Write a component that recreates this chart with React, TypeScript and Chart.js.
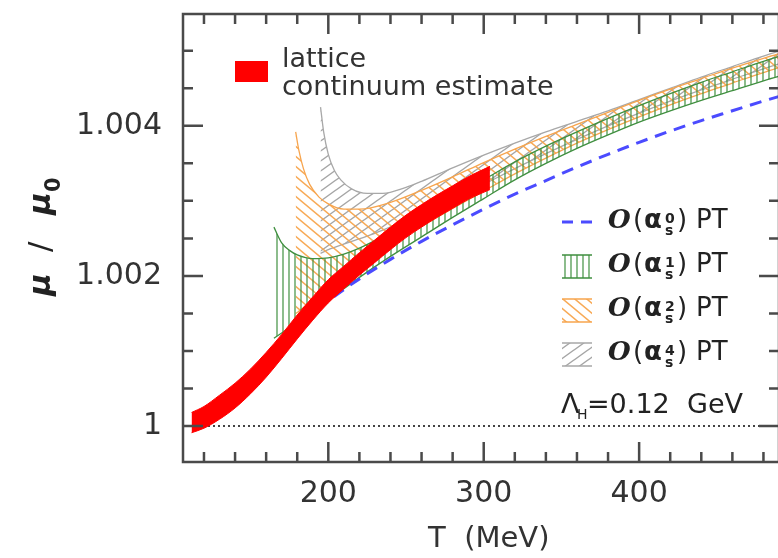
import React, { useEffect, useRef } from "react";
import { Chart, registerables } from "chart.js";
Chart.register(...registerables);

// ---------- axis ranges & ticks ----------
const xMin = 106.5;
const xMax = 490;
const yMin = 0.99952;
const yMax = 1.00549;
const xTicks = [200, 300, 400];
const xTickLabels = ["200", "300", "400"];
const xMinorTicks = [120, 140, 160, 180, 220, 240, 260, 280, 320, 340, 360, 380, 420, 440, 460, 480];
const yTicks = [1, 1.002, 1.004];
const yTickLabels = ["1", "1.002", "1.004"];
const yMinorTicks = [1.0005, 1.001, 1.0015, 1.0025, 1.003, 1.0035, 1.0045, 1.005];

// ---------- lattice continuum estimate (band) ----------
const latticeT = [112, 120, 130, 140, 150, 160, 170, 180, 190, 200, 210, 220, 230, 240, 250, 260, 270, 280, 290, 304];
const latticeLow = [0.99991, 0.99997, 1.00009, 1.00024, 1.00043, 1.00065, 1.0009, 1.00116, 1.00141, 1.00164, 1.00183, 1.00201, 1.00218, 1.00235, 1.00251, 1.00265, 1.00278, 1.0029, 1.00302, 1.00315];
const latticeHigh = [1.00018, 1.00026, 1.00041, 1.00057, 1.00076, 1.00098, 1.00122, 1.00148, 1.00172, 1.00195, 1.00213, 1.00231, 1.00248, 1.00265, 1.00281, 1.00295, 1.00308, 1.0032, 1.00332, 1.00346];

// ---------- O(alpha_s^0) PT ----------
const pt0T = [183, 200, 220, 240, 260, 280, 300, 320, 340, 360, 380, 400, 420, 440, 460, 480, 500];
const pt0Mu = [1.0014, 1.00167, 1.00196, 1.00222, 1.00246, 1.00268, 1.00289, 1.00309, 1.00327, 1.00345, 1.00362, 1.00378, 1.00393, 1.00407, 1.0042, 1.00433, 1.00445];

// ---------- O(alpha_s^1) PT band ----------
const pt1T = [165, 170, 175, 180, 190, 200, 210, 220, 240, 260, 280, 300, 320, 340, 360, 380, 400, 420, 440, 460, 480, 500];
const pt1Low = [1.00117, 1.00124, 1.00131, 1.00138, 1.00153, 1.00168, 1.00183, 1.00198, 1.00226, 1.00252, 1.00278, 1.00303, 1.00328, 1.0035, 1.0037, 1.00388, 1.00405, 1.0042, 1.00434, 1.00447, 1.0046, 1.00472];
const pt1High = [1.00265, 1.00244, 1.00234, 1.00228, 1.00223, 1.00224, 1.00229, 1.00237, 1.00258, 1.00282, 1.00305, 1.00328, 1.00352, 1.00373, 1.00392, 1.0041, 1.00427, 1.00443, 1.00458, 1.00472, 1.00486, 1.00499];

// ---------- O(alpha_s^2) PT band ----------
const pt2T = [179, 181, 184, 188, 194, 200, 210, 220, 240, 260, 280, 300, 320, 340, 360, 380, 400, 420, 440, 460, 480, 500];
const pt2Low = [1.0015, 1.00153, 1.00158, 1.00164, 1.00173, 1.00183, 1.00198, 1.00213, 1.00241, 1.00266, 1.0029, 1.00313, 1.00336, 1.00357, 1.00377, 1.00395, 1.00412, 1.00428, 1.00443, 1.00457, 1.00471, 1.00484];
const pt2High = [1.00392, 1.00368, 1.00343, 1.00322, 1.00305, 1.00296, 1.00289, 1.00289, 1.00298, 1.00314, 1.00332, 1.00351, 1.00369, 1.00386, 1.00402, 1.00418, 1.00434, 1.00449, 1.00463, 1.00477, 1.0049, 1.00502];

// ---------- O(alpha_s^4) PT band ----------
const pt4T = [195, 197, 200, 204, 208, 215, 225, 235, 250, 260, 280, 300, 320, 340, 360, 380, 400, 420, 440, 460, 480, 500];
const pt4Low = [1.0023, 1.00232, 1.00235, 1.00238, 1.00241, 1.00246, 1.00253, 1.00261, 1.00274, 1.00283, 1.00302, 1.00322, 1.00343, 1.00363, 1.00382, 1.004, 1.00417, 1.00433, 1.00448, 1.00462, 1.00476, 1.00489];
const pt4High = [1.00425, 1.00392, 1.00362, 1.0034, 1.00328, 1.00316, 1.0031, 1.0031, 1.00318, 1.00326, 1.00344, 1.00361, 1.00377, 1.00392, 1.00406, 1.0042, 1.00435, 1.0045, 1.00465, 1.00479, 1.00493, 1.00506];

// reference line mu/mu0 = 1
const refLineT = [xMin, xMax];
const refLineMu = [1, 1];

// legend texts
const latticeLabel = ["lattice", "continuum estimate"];
const ptOrders = ["0", "1", "2", "4"];
const lambdaLabel = ["Λ", "H", "=0.12", "GeV"];

// ---------- styles ----------
const RED = "#ff0000";
const BLUE = "#4b4bff";
const GREEN = "#3f8f3f";
const ORANGE = "#f7a54e";
const GRAY = "#a8a8a8";
const AXIS = "#4a4a4a";
const TEXT = "#333333";
const FONT = '"DejaVu Sans"';

function makePattern(ctx: CanvasRenderingContext2D, kind: string, color: string, lw: number) {
  const c = document.createElement("canvas");
  let w = 6;
  let h = 6;
  if (kind === "back") { w = 12; h = 10; }
  if (kind === "fwd") { w = 14; h = 10; }
  c.width = w;
  c.height = h;
  const g = c.getContext("2d")!;
  g.strokeStyle = color;
  g.lineWidth = lw;
  g.beginPath();
  if (kind === "v") {
    g.moveTo(1, 0);
    g.lineTo(1, h);
  } else if (kind === "back") {
    for (const dy of [-h, 0, h]) {
      g.moveTo(-1, dy - h / w);
      g.lineTo(w + 1, dy + h + h / w);
    }
  } else {
    for (const dy of [-h, 0, h]) {
      g.moveTo(-1, dy + h + h / w);
      g.lineTo(w + 1, dy - h / w);
    }
  }
  g.stroke();
  return ctx.createPattern(c, "repeat")!;
}

const pts = (T: number[], Y: number[]) => T.map((t, i) => ({ x: t, y: Y[i] }));

export default function App() {
  const ref = useRef<HTMLCanvasElement | null>(null);

  useEffect(() => {
    const canvas = ref.current!;
    const ctx0 = canvas.getContext("2d")!;
    const greenPat = makePattern(ctx0, "v", "rgba(63,143,63,0.85)", 1.4);
    const orangePat = makePattern(ctx0, "back", "rgba(247,165,78,0.95)", 1.5);
    const grayPat = makePattern(ctx0, "fwd", "rgba(155,155,155,0.9)", 1.4);

    const base = { pointRadius: 0, borderWidth: 1.3, cubicInterpolationMode: "monotone" as const, fill: false };

    const overlay = {
      id: "overlay",
      afterDraw(chart: any) {
        const { ctx, chartArea: a, scales } = chart;
        const xs = scales.x;
        const ys = scales.y;
        ctx.save();
        // frame
        ctx.strokeStyle = AXIS;
        ctx.lineWidth = 2.5;
        ctx.strokeRect(a.left, a.top, a.right - a.left, a.bottom - a.top);
        // ticks
        const vt = (v: number, len: number) => {
          const x = xs.getPixelForValue(v);
          ctx.beginPath();
          ctx.moveTo(x, a.bottom);
          ctx.lineTo(x, a.bottom - len);
          ctx.moveTo(x, a.top);
          ctx.lineTo(x, a.top + len);
          ctx.stroke();
        };
        const ht = (v: number, len: number) => {
          const y = ys.getPixelForValue(v);
          ctx.beginPath();
          ctx.moveTo(a.left, y);
          ctx.lineTo(a.left + len, y);
          ctx.moveTo(a.right, y);
          ctx.lineTo(a.right - len, y);
          ctx.stroke();
        };
        xTicks.forEach((v) => vt(v, 20));
        xMinorTicks.forEach((v) => vt(v, 10));
        yTicks.forEach((v) => ht(v, 20));
        yMinorTicks.forEach((v) => ht(v, 10));

        const txt = (s: string, x: number, y: number, font: string, color = TEXT) => {
          ctx.font = font;
          ctx.fillStyle = color;
          ctx.textAlign = "left";
          ctx.textBaseline = "alphabetic";
          ctx.fillText(s, x, y);
        };

        // x title
        txt("T  (MeV)", 428, 547, `29px ${FONT}`);
        // y title (rotated)
        ctx.save();
        ctx.translate(50, 296);
        ctx.rotate(-Math.PI / 2);
        txt("μ", 0, 0, `italic bold 31px ${FONT}`, "#222");
        txt("/", 44, 0, `31px ${FONT}`, "#222");
        txt("μ", 81, 0, `italic bold 31px ${FONT}`, "#222");
        txt("0", 104, 10, `bold 21px ${FONT}`, "#222");
        ctx.restore();

        // lattice legend
        ctx.fillStyle = RED;
        ctx.fillRect(235, 61, 33, 21);
        txt(latticeLabel[0], 282, 67, `27px ${FONT}`);
        txt(latticeLabel[1], 282, 95, `27px ${FONT}`);

        // PT legend
        const bases = [228, 272, 316, 360];
        const sx = 562;
        const sw = 30;
        bases.forEach((b, i) => {
          if (i === 0) {
            ctx.strokeStyle = BLUE;
            ctx.lineWidth = 3;
            ctx.setLineDash([11, 8]);
            ctx.beginPath();
            ctx.moveTo(sx, b - 6);
            ctx.lineTo(sx + sw, b - 6);
            ctx.stroke();
            ctx.setLineDash([]);
          } else {
            const pat = i === 1 ? greenPat : i === 2 ? orangePat : grayPat;
            const col = i === 1 ? GREEN : i === 2 ? ORANGE : GRAY;
            const top = b - 17;
            const bot = b + 6;
            ctx.fillStyle = pat;
            ctx.fillRect(sx, top, sw, bot - top);
            ctx.strokeStyle = col;
            ctx.lineWidth = 1.5;
            ctx.beginPath();
            ctx.moveTo(sx, top);
            ctx.lineTo(sx + sw, top);
            ctx.moveTo(sx, bot);
            ctx.lineTo(sx + sw, bot);
            ctx.stroke();
          }
          const x0 = 608;
          txt("O", x0, b, `bold italic 26px "DejaVu Serif"`, "#222");
          txt("(", x0 + 25, b, `26px ${FONT}`, "#222");
          txt("α", x0 + 36, b, `bold 26px ${FONT}`, "#222");
          txt(ptOrders[i], x0 + 57, b - 5, `bold 14px ${FONT}`, "#222");
          txt("s", x0 + 57, b + 7, `bold 14px ${FONT}`, "#222");
          txt(")", x0 + 69, b, `26px ${FONT}`, "#222");
          txt("PT", x0 + 88, b, `26px ${FONT}`, "#222");
        });
        // Lambda_H
        txt(lambdaLabel[0], 561, 413, `27px ${FONT}`, "#222");
        txt(lambdaLabel[1], 577, 419, `14px ${FONT}`, "#222");
        txt(lambdaLabel[2], 587, 413, `27px ${FONT}`, "#222");
        txt(lambdaLabel[3], 687, 413, `27px ${FONT}`, "#222");
        ctx.restore();
      },
    };

    Chart.defaults.font.family = FONT;
    const chart = new Chart(canvas, {
      type: "line",
      data: {
        datasets: [
          { ...base, label: "a4 low", data: pts(pt4T, pt4Low), borderColor: GRAY, order: 5 },
          { ...base, label: "a4 high", data: pts(pt4T, pt4High), borderColor: GRAY, fill: "-1", backgroundColor: grayPat, order: 5 },
          { ...base, label: "a2 low", data: pts(pt2T, pt2Low), borderColor: ORANGE, order: 4 },
          { ...base, label: "a2 high", data: pts(pt2T, pt2High), borderColor: ORANGE, fill: "-1", backgroundColor: orangePat, order: 4 },
          { ...base, label: "a1 low", data: pts(pt1T, pt1Low), borderColor: GREEN, order: 3 },
          { ...base, label: "a1 high", data: pts(pt1T, pt1High), borderColor: GREEN, fill: "-1", backgroundColor: greenPat, order: 3 },
          { ...base, label: "a0", data: pts(pt0T, pt0Mu), borderColor: BLUE, borderWidth: 3, borderDash: [12, 8], order: 2 },
          { ...base, label: "ref", data: pts(refLineT, refLineMu), borderColor: "#444", borderWidth: 2, borderDash: [2, 3], order: 6 },
          { ...base, label: "lat low", data: pts(latticeT, latticeLow), borderColor: RED, borderWidth: 1, order: 1 },
          { ...base, label: "lat high", data: pts(latticeT, latticeHigh), borderColor: RED, borderWidth: 1, fill: "-1", backgroundColor: RED, order: 1 },
        ],
      },
      options: {
        responsive: false,
        animation: false,
        events: [],
        layout: { padding: { left: 0, top: 14, right: 21, bottom: 0 } },
        plugins: { legend: { display: false }, tooltip: { enabled: false } },
        scales: {
          x: {
            type: "linear",
            min: xMin,
            max: xMax,
            afterFit: (s: any) => { s.height = 96; s.paddingLeft = 0; s.paddingRight = 0; },
            afterBuildTicks: (s: any) => { s.ticks = xTicks.map((v) => ({ value: v })); },
            ticks: {
              callback: (_v: any, i: number) => xTickLabels[i],
              font: { size: 30, family: FONT },
              color: TEXT,
              padding: 14,
              maxRotation: 0,
              autoSkip: false,
            },
            grid: { display: false, drawTicks: false },
            border: { display: false },
          },
          y: {
            type: "linear",
            min: yMin,
            max: yMax,
            afterFit: (s: any) => { s.width = 183; s.paddingTop = 0; s.paddingBottom = 0; },
            afterBuildTicks: (s: any) => { s.ticks = yTicks.map((v) => ({ value: v })); },
            ticks: {
              callback: (_v: any, i: number) => yTickLabels[i],
              font: { size: 30, family: FONT },
              color: TEXT,
              padding: 21,
              autoSkip: false,
            },
            grid: { display: false, drawTicks: false },
            border: { display: false },
          },
        },
      },
      plugins: [overlay],
    });
    return () => chart.destroy();
  }, []);

  return (
    <div style={{ position: "absolute", left: 0, top: 0, width: 778, height: 558, overflow: "hidden", background: "#fff" }}>
      <canvas ref={ref} width={800} height={558} style={{ display: "block", width: 800, height: 558 }} />
    </div>
  );
}
